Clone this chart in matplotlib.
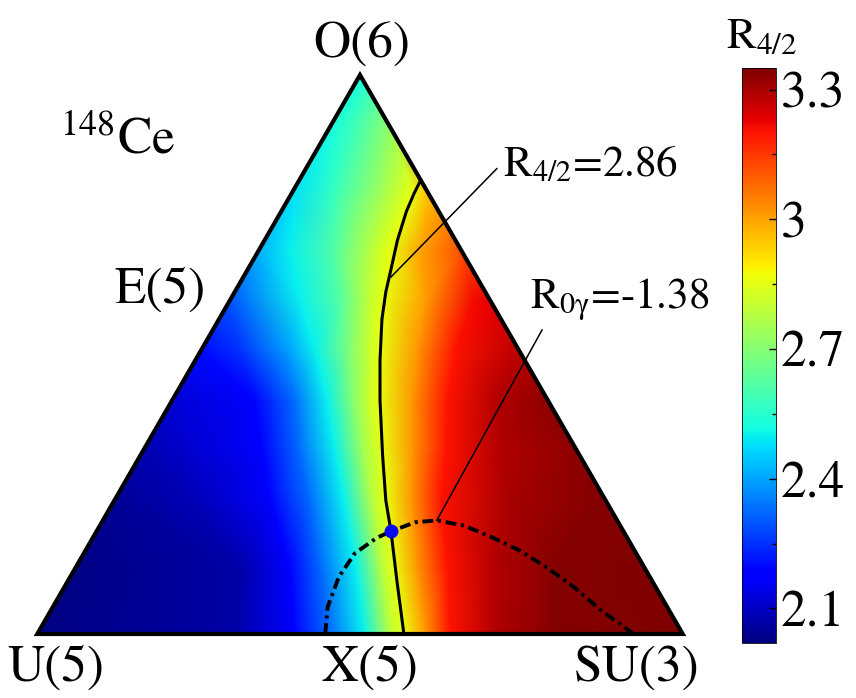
import matplotlib

matplotlib.use("Agg")
import matplotlib.pyplot as plt
import matplotlib.tri as mtri
import numpy as np
from matplotlib.patches import Polygon

plt.rcParams["font.family"] = "STIXGeneral"
plt.rcParams["mathtext.fontset"] = "stix"

H = np.sqrt(3) / 2

# R_{4/2}, row by row (x along U(5)-SU(3), y up to O(6))
row_y = [0.0, 0.099, 0.207, 0.285, 0.362, 0.44, 0.517, 0.594, 0.687, 0.796, 0.866]
row_x = [
    [0.0, 0.310, 0.398, 0.454, 0.506, 0.546, 0.568, 0.598, 0.639, 0.709, 0.803, 1.0],
    [0.0572, 0.314, 0.392, 0.441, 0.494, 0.534, 0.554, 0.587, 0.635, 0.709, 0.803, 0.943],
    [0.1197, 0.252, 0.361, 0.423, 0.475, 0.519, 0.540, 0.580, 0.625, 0.731, 0.868, 0.880],
    [0.1645, 0.252, 0.348, 0.407, 0.461, 0.503, 0.534, 0.582, 0.633, 0.717, 0.8355],
    [0.209, 0.336, 0.399, 0.449, 0.488, 0.515, 0.528, 0.582, 0.635, 0.712, 0.791],
    [0.254, 0.314, 0.392, 0.430, 0.481, 0.519, 0.531, 0.590, 0.647, 0.746],
    [0.2985, 0.407, 0.469, 0.515, 0.536, 0.598, 0.675, 0.7015],
    [0.343, 0.392, 0.461, 0.523, 0.546, 0.593, 0.657],
    [0.3966, 0.458, 0.536, 0.582, 0.6034],
    [0.4596, 0.5, 0.5404],
    [0.5],
]
row_r = [
    [2.03, 2.07, 2.17, 2.33, 2.50, 2.78, 2.86, 3.00, 3.20, 3.29, 3.34, 3.35],
    [2.03, 2.07, 2.17, 2.33, 2.50, 2.78, 2.86, 3.01, 3.20, 3.29, 3.34, 3.35],
    [2.05, 2.09, 2.18, 2.33, 2.50, 2.78, 2.86, 3.02, 3.20, 3.30, 3.34, 3.34],
    [2.08, 2.12, 2.18, 2.33, 2.50, 2.74, 2.86, 3.02, 3.20, 3.29, 3.33],
    [2.12, 2.18, 2.33, 2.50, 2.70, 2.82, 2.86, 3.02, 3.20, 3.29, 3.33],
    [2.20, 2.25, 2.40, 2.50, 2.68, 2.83, 2.86, 3.02, 3.20, 3.28],
    [2.30, 2.50, 2.62, 2.80, 2.86, 3.00, 3.21, 3.23],
    [2.42, 2.50, 2.62, 2.80, 2.86, 3.00, 3.12],
    [2.48, 2.57, 2.75, 2.86, 2.95],
    [2.52, 2.60, 2.70],
    [2.52],
]

# R_{4/2} = 2.86 contour
c286_x = [0.568, 0.557, 0.548, 0.540, 0.535, 0.531, 0.531, 0.534, 0.540, 0.548,
          0.558, 0.572, 0.584, 0.594]
c286_y = [0.0, 0.084, 0.159, 0.207, 0.277, 0.362, 0.424, 0.488, 0.530, 0.565,
          0.610, 0.655, 0.683, 0.703]

# R_{0gamma} = -1.38 contour (dash-dot)
c138_x = [0.446, 0.450, 0.467, 0.492, 0.526, 0.548, 0.585, 0.619, 0.661, 0.704,
          0.746, 0.788, 0.831, 0.873, 0.924]
c138_y = [0.0, 0.042, 0.088, 0.125, 0.149, 0.159, 0.173, 0.176, 0.168, 0.150,
          0.130, 0.104, 0.073, 0.037, 0.0]

cross_point = (0.548, 0.159)

vmin, vmax = 2.02, 3.35
cbar_ticks = [2.1, 2.4, 2.7, 3.0, 3.3]
cbar_labels = ["2.1", "2.4", "2.7", "3", "3.3"]

pts_x = np.concatenate([np.array(xs) for xs in row_x])
pts_y = np.concatenate([np.full(len(xs), y) for xs, y in zip(row_x, row_y)])
pts_r = np.concatenate([np.array(rs) for rs in row_r])

fig = plt.figure(figsize=(8.56, 6.98), dpi=100)
ax = fig.add_axes([37 / 856, 64 / 698, 646 / 856, 559 / 698])
ax.set_xlim(0, 1)
ax.set_ylim(0, H)
ax.set_aspect("equal")
ax.axis("off")

tri = mtri.Triangulation(pts_x, pts_y)
corners = [(0, 0), (1, 0), (0.5, H)]
clip = Polygon(corners, closed=True, transform=ax.transData, facecolor="none")
mesh = ax.tripcolor(tri, pts_r, shading="gouraud", cmap="jet", vmin=vmin, vmax=vmax)
mesh.set_clip_path(clip)

ax.add_patch(Polygon(corners, closed=True, fill=False, edgecolor="black",
                     lw=3, joinstyle="miter", clip_on=False, zorder=5))

ax.plot(c286_x, c286_y, color="black", lw=2.2, zorder=4)
ax.plot(c138_x, c138_y, color="black", lw=2.8, zorder=4,
        dashes=[2.8, 1.2, 0.8, 1.2])
ax.plot(*cross_point, "o", color="#0a0af0", ms=9, zorder=6)

# leader lines
ax.plot([0.548, 0.712], [0.553, 0.721], color="black", lw=1.1, zorder=4, clip_on=False)
ax.plot([0.619, 0.782], [0.176, 0.471], color="black", lw=1.1, zorder=4, clip_on=False)

ax.text(0.722, 0.726, r"R$_{\mathrm{4/2}}$=2.86", fontsize=31, ha="left", va="center")
ax.text(0.763, 0.517, r"R$_{\mathrm{0γ}}$=-1.38", fontsize=31, ha="left", va="center")

big = 37
ax.text(0.503, 0.912, "O(6)", fontsize=big, ha="center", va="center")
ax.text(0.190, 0.532, "E(5)", fontsize=big, ha="center", va="center")
ax.text(0.028, -0.053, "U(5)", fontsize=big, ha="center", va="center")
ax.text(0.515, -0.053, "X(5)", fontsize=big, ha="center", va="center")
ax.text(0.929, -0.053, "SU(3)", fontsize=big, ha="center", va="center")
ax.text(0.125, 0.765, r"$^{148}$Ce", fontsize=big, ha="center", va="center")

cax = fig.add_axes([742 / 856, 55 / 698, 34 / 856, 575 / 698])
cbar = fig.colorbar(mesh, cax=cax)
cbar.set_ticks(cbar_ticks)
cbar.set_ticklabels(cbar_labels)
cbar.ax.set_yticks(np.arange(2.25, 3.3, 0.3), minor=True)
cbar.ax.tick_params(which="both", direction="in", labelsize=37, width=1)
cbar.ax.tick_params(which="major", length=5)
cbar.ax.tick_params(which="minor", length=3)
cbar.outline.set_linewidth(0.6)
fig.text(762 / 856, 1 - 38 / 698, r"R$_{\mathrm{4/2}}$", fontsize=32,
         ha="center", va="center")

fig.savefig("out.png", dpi=100)
